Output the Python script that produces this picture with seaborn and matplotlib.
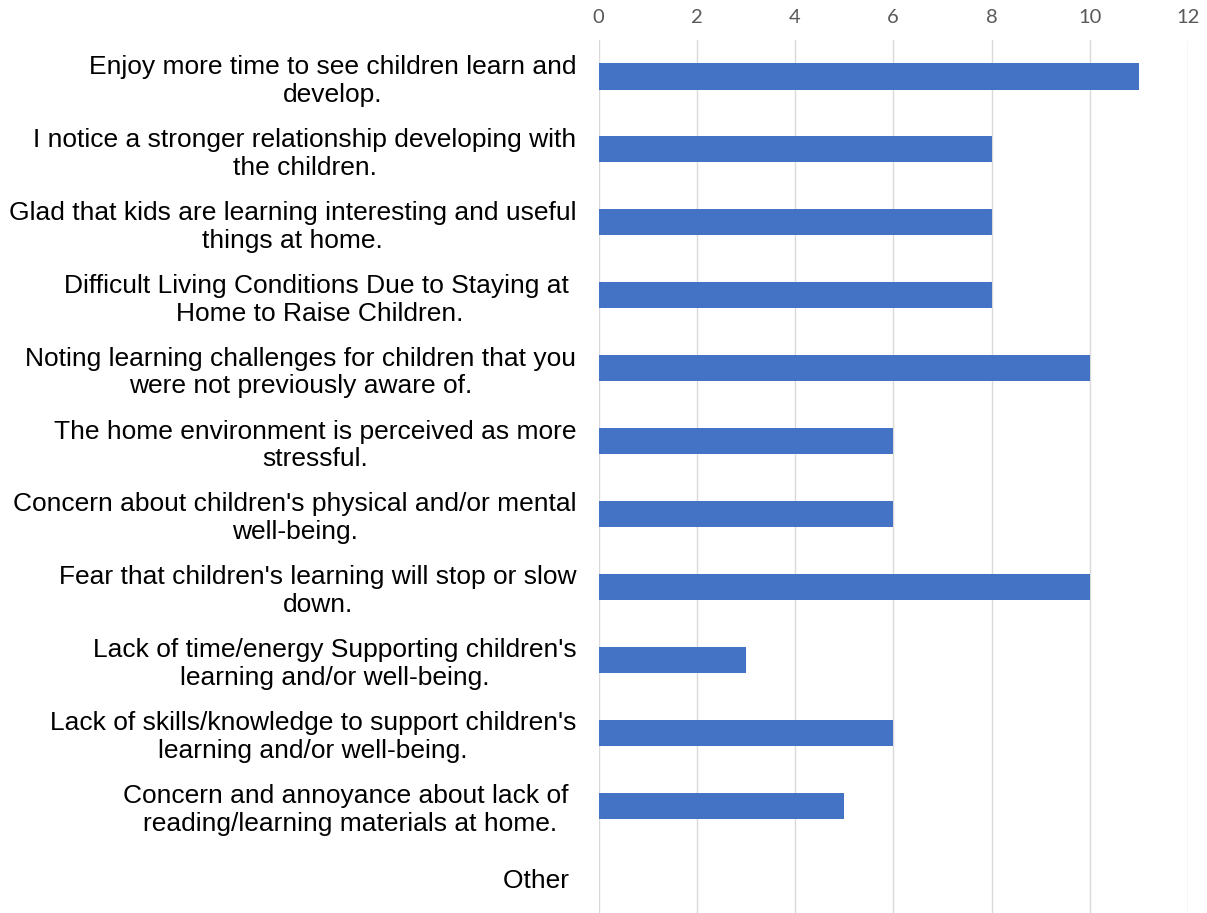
import matplotlib
matplotlib.use("Agg")
import matplotlib.pyplot as plt
import seaborn as sns
import pandas as pd

# Survey responses: how parents experience having children learn at home
categories = [
    "Enjoy more time to see children learn and\ndevelop.",
    "I notice a stronger relationship developing with\nthe children.",
    "Glad that kids are learning interesting and useful\nthings at home.",
    "Difficult Living Conditions Due to Staying at \nHome to Raise Children.",
    "Noting learning challenges for children that you\nwere not previously aware of.",
    "The home environment is perceived as more\nstressful.",
    "Concern about children's physical and/or mental\nwell-being.",
    "Fear that children's learning will stop or slow\ndown.",
    "Lack of time/energy Supporting children's\nlearning and/or well-being.",
    "Lack of skills/knowledge to support children's\nlearning and/or well-being.",
    "Concern and annoyance about lack of \nreading/learning materials at home.",
    "Other ",
]
counts = [11, 8, 8, 8, 10, 6, 6, 10, 3, 6, 5, 0]
x_ticks = [0, 2, 4, 6, 8, 10, 12]

df = pd.DataFrame({"response": categories, "count": counts})

sns.set_theme(style="white")
plt.rcParams["font.family"] = ["Liberation Sans", "DejaVu Sans"]

fig = plt.figure(figsize=(12.07, 9.13), dpi=100)
ax = fig.add_axes([598.5 / 1207, -2 / 913, (1188 - 598.5) / 1207, 875 / 913])

sns.barplot(data=df, y="response", x="count", orient="h", color="#4472C4",
            saturation=1, width=0.36, linewidth=0, ax=ax, zorder=3)

ax.set_xlim(0, 12)
ax.set_ylim(len(categories) - 0.5, -0.5)
ax.set_xticks(x_ticks)
ax.set_xticklabels([str(t) for t in x_ticks], family="Lato", fontsize=14.5, color="#595959")
ax.xaxis.tick_top()
ax.tick_params(axis="x", length=0, pad=10)
ax.tick_params(axis="y", length=0, pad=16)
for lbl in ax.get_yticklabels():
    lbl.set_fontsize(19)
    lbl.set_color("#000000")
    lbl.set_multialignment("center")

ax.grid(axis="x", color="#D9D9D9", linewidth=1.0, zorder=0)
ax.grid(axis="y", visible=False)
for s in ax.spines.values():
    s.set_visible(False)
ax.set_xlabel("")
ax.set_ylabel("")

fig.savefig("out.png", dpi=100, facecolor="white")
